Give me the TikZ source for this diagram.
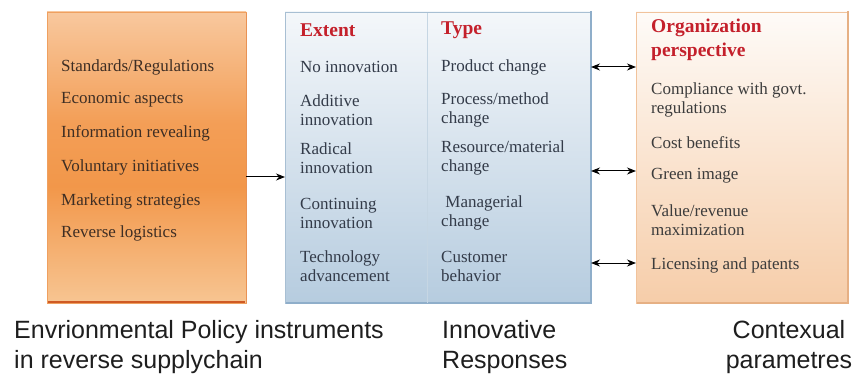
\documentclass[tikz,border=0pt]{standalone}
\usepackage{fontspec}
\setmainfont{Liberation Serif}
\newfontfamily\capfont{Liberation Sans}
\usetikzlibrary{arrows.meta}

\definecolor{orTop}{HTML}{F8C89E}
\definecolor{orPeak}{HTML}{F2974A}
\definecolor{orBot}{HTML}{F7C592}
\definecolor{orEdge}{HTML}{EFA060}
\definecolor{orShadow}{HTML}{CF5A24}
\definecolor{blTop}{HTML}{F4F7FA}
\definecolor{blBot}{HTML}{B6CCDF}
\definecolor{blEdge}{HTML}{A8BFD3}
\definecolor{blShadow}{HTML}{8FAECA}
\definecolor{blDiv}{HTML}{C6D6E3}
\definecolor{pcTop}{HTML}{FEFBF8}
\definecolor{pcBot}{HTML}{F6CDA9}
\definecolor{pcEdge}{HTML}{F1C39C}
\definecolor{pcShadow}{HTML}{E6B084}
\definecolor{headRed}{HTML}{C4202B}
\definecolor{txBrown}{HTML}{3E2E24}
\definecolor{txBlue}{HTML}{333B49}
\definecolor{txGrey}{HTML}{3C3C3C}
\definecolor{capGrey}{HTML}{1E1E1E}

% orange band that peaks a little below the middle of the box
\pgfdeclareverticalshading{policyshade}{100bp}{%
  color(0bp)=(orBot); color(25bp)=(orBot); color(45bp)=(orPeak);
  color(56bp)=(orPeak!85!orTop); color(75bp)=(orTop); color(100bp)=(orTop)}

\tikzset{
  panel/.style={rectangle, inner sep=0pt, outer sep=0pt},
  item/.style={anchor=west, align=left, inner sep=0pt,
    font=\fontsize{17}{19}\selectfont},
  head/.style={item, font=\fontsize{19.5}{24}\selectfont\bfseries, text=headRed},
  caption/.style={align=left, inner sep=0pt,
    font=\capfont\fontsize{25}{30}\selectfont, text=capGrey},
  tip/.style={Stealth[length=9pt,width=7pt]},
  link/.style={line width=1pt, -{Stealth[length=9pt,width=7pt]}},
  duallink/.style={line width=1pt, {Stealth[length=9pt,width=7pt]}-{Stealth[length=9pt,width=7pt]}}
}

\begin{document}
\begin{tikzpicture}[x=1pt,y=-1pt]
\useasboundingbox (0,0) rectangle (862,382);
\fill[white] (0,0) rectangle (862,382);

% --- panels ---
\node[panel, shading=policyshade, draw=orEdge, line width=0.6pt,
      minimum width=199pt, minimum height=291pt] (lbox) at (146.5,157.5) {};
\draw[orShadow, line width=1.6pt] (lbox.south west) ++(1,-0.8) -- ([xshift=-1pt,yshift=0.8pt]lbox.south east);
\draw[orEdge!80!orShadow, line width=1pt] ([yshift=-1pt]lbox.north east) -- (lbox.south east);

\node[panel, top color=blTop, bottom color=blBot, draw=blEdge, line width=0.8pt,
      minimum width=306pt, minimum height=291pt] (mbox) at (438,157.5) {};
\draw[blShadow, line width=1.4pt] ([yshift=1pt]mbox.north east) -- (mbox.south east) -- ([xshift=1pt]mbox.south west);
\draw[blDiv, line width=0.9pt] ([yshift=-1pt]mbox.north west -| 427,0) coordinate (divtop)
  -- (mbox.south west -| 427,0) coordinate (divbot);

\node[panel, top color=pcTop, bottom color=pcBot, draw=pcEdge, line width=0.8pt,
      minimum width=212pt, minimum height=291pt] (rbox) at (742,157.5) {};
\draw[pcShadow, line width=1.4pt] ([yshift=1pt]rbox.north east) -- (rbox.south east) -- ([xshift=1pt]rbox.south west);

% --- policy instruments ---
\begin{scope}[every node/.append style={text=txBrown}]
\node[item] (p1) at (61,67)  {Standards/Regulations};
\node[item] (p2) at (61,100) {Economic aspects};
\node[item] (p3) at (61,133) {Information revealing};
\node[item] (p4) at (61,167) {Voluntary initiatives};
\node[item] (p5) at (61,201) {Marketing strategies};
\node[item] (p6) at (61,233) {Reverse logistics};
\end{scope}

% --- innovative responses ---
\node[head] (ext) at (300,30) {Extent};
\node[head] (typ) at (441,30) {Type};
\begin{scope}[every node/.append style={text=txBlue}]
\node[item] (e1) at (300,67)  {No innovation};
\node[item] (e2) at (300,110) {Additive\\innovation};
\node[item] (e3) at (300,158) {Radical\\innovation};
\node[item] (e4) at (300,213) {Continuing\\innovation};
\node[item] (e5) at (300,266) {Technology\\advancement};
\node[item] (t1) at (441,67)  {Product change};
\node[item] (t2) at (441,110) {Process/method\\change};
\node[item] (t3) at (441,158) {Resource/material\\change};
\node[item] (t4) at (441,213) {\ Managerial\\change};
\node[item] (t5) at (441,266) {Customer\\behavior};
\end{scope}

% --- organization perspective ---
\node[head] (org) at (651,40) {Organization\\perspective};
\begin{scope}[every node/.append style={text=txGrey}]
\node[item] (o1) at (651,100) {Compliance with govt.\\regulations};
\node[item] (o2) at (651,143) {Cost benefits};
\node[item] (o3) at (651,176) {Green image};
\node[item] (o4) at (651,220) {Value/revenue\\maximization};
\node[item] (o5) at (651,265) {Licensing and patents};
\end{scope}

% --- connectors ---
\draw[link] (lbox.east |- 0,177) -- (mbox.west |- 0,177);
\draw[duallink] (mbox.east |- 0,67)  -- (rbox.west |- 0,67);
\draw[duallink] (mbox.east |- 0,171) -- (rbox.west |- 0,171);
\draw[duallink] (mbox.east |- 0,263) -- (rbox.west |- 0,263);

% --- captions ---
\node[caption, anchor=west] (c1) at (14,347) {Envrionmental Policy instruments\\in reverse supplychain};
\node[caption, anchor=west] (c2) at (442,347) {Innovative\\Responses};
\node[caption, align=center] (c3) at (789,347) {Contexual\\parametres};
\end{tikzpicture}
\end{document}
